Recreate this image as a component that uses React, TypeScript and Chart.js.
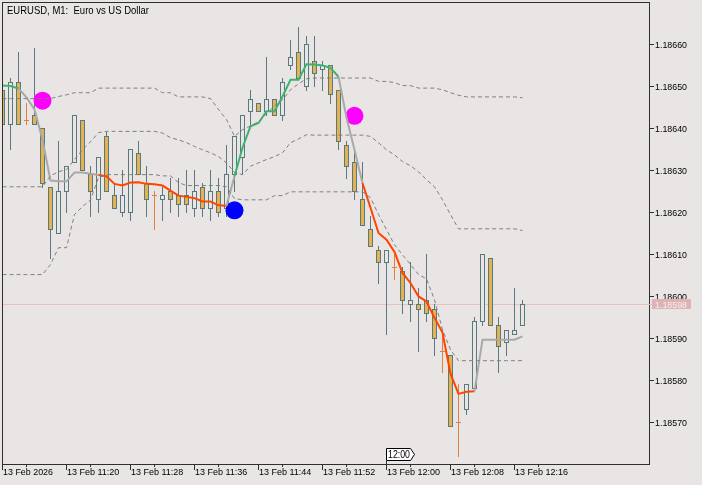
import React, { useEffect, useRef } from "react";
import { Chart, registerables } from "chart.js";

Chart.register(...registerables);

// ---------- text ----------
const chartTitle = "EURUSD, M1:  Euro vs US Dollar";
const timeTickBars = [0, 8, 16, 24, 32, 40, 48, 56, 64];
const timeTickLabels = [
  "13 Feb 2026", "13 Feb 11:20", "13 Feb 11:28", "13 Feb 11:36", "13 Feb 11:44",
  "13 Feb 11:52", "13 Feb 12:00", "13 Feb 12:08", "13 Feb 12:16",
];
const priceTicks = [1.1857, 1.1858, 1.1859, 1.186, 1.1861, 1.1862, 1.1863, 1.1864, 1.1865, 1.1866];
const bidPrice = 1.18598;
const timeMarkerBar = 48;
const timeMarkerLabel = "12:00";

// ---------- candles (bar 0 = 11:12, one bar per minute) ----------
const opens = [
  1.18649, 1.18641, 1.18651, 1.18642, 1.18643, 1.1864, 1.18626, 1.18615, 1.18625, 1.18632,
  1.18642, 1.18629, 1.18623, 1.18638, 1.18624, 1.1862, 1.1862, 1.18634, 1.18627, 1.18624,
  1.18623, 1.18625, 1.18624, 1.18624, 1.18621, 1.18626, 1.18621, 1.18625, 1.18621, 1.18629,
  1.18633, 1.18644, 1.18646, 1.18644, 1.18647, 1.18643, 1.18655, 1.18658, 1.1865, 1.18656,
  1.18654, 1.18655, 1.18649, 1.18636, 1.18632, 1.18623, 1.18616, 1.18611, 1.18608, 1.18607,
  1.18606, 1.18598, 1.18598, 1.18599, 1.18597, 1.18587, 1.18586, 1.1857, 1.18573, 1.18578,
  1.18594, 1.18609, 1.18593, 1.18589, 1.18591, 1.18593,
];
const highs = [
  1.18651, 1.18652, 1.18658, 1.18646, 1.18659, 1.1864, 1.18626, 1.18637, 1.18631, 1.18643,
  1.18642, 1.18631, 1.18633, 1.18639, 1.18627, 1.1863, 1.18635, 1.18637, 1.18631, 1.18625,
  1.18626, 1.18628, 1.18628, 1.1863, 1.1863, 1.18627, 1.1863, 1.18628, 1.18636, 1.18638,
  1.18643, 1.18649, 1.18646, 1.18657, 1.18647, 1.18652, 1.18661, 1.18664, 1.18662, 1.18662,
  1.18656, 1.18655, 1.18649, 1.18637, 1.18635, 1.18632, 1.18619, 1.18612, 1.18611, 1.1861,
  1.18607, 1.18608, 1.18602, 1.1861, 1.18598, 1.18592, 1.18586, 1.18579, 1.18579, 1.18595,
  1.1861, 1.18609, 1.18595, 1.18592, 1.18602, 1.18599,
];
const lows = [
  1.1864, 1.18635, 1.18641, 1.18641, 1.18641, 1.18626, 1.18609, 1.18615, 1.1862, 1.18632,
  1.1863, 1.18619, 1.1862, 1.18625, 1.18621, 1.18619, 1.18618, 1.18629, 1.18619, 1.18616,
  1.18618, 1.1862, 1.18619, 1.1862, 1.18619, 1.18619, 1.18618, 1.18619, 1.18619, 1.18625,
  1.18629, 1.18641, 1.18644, 1.18643, 1.18643, 1.18642, 1.18654, 1.18652, 1.18649, 1.1865,
  1.18649, 1.18646, 1.18635, 1.18628, 1.18623, 1.18617, 1.18612, 1.18603, 1.18591, 1.18604,
  1.18596, 1.18594, 1.18587, 1.18594, 1.18586, 1.18582, 1.18569, 1.18562, 1.18572, 1.18578,
  1.18593, 1.18593, 1.18582, 1.18586, 1.18591, 1.18593,
];
const closes = [
  1.18641, 1.18651, 1.18641, 1.18642, 1.18641, 1.18627, 1.18616, 1.18625, 1.18631, 1.18643,
  1.1863, 1.18625, 1.18633, 1.18625, 1.18621, 1.18624, 1.18635, 1.18629, 1.18623, 1.18624,
  1.18624, 1.18623, 1.18622, 1.18622, 1.18625, 1.18621, 1.18625, 1.1862, 1.18629, 1.18638,
  1.18643, 1.18647, 1.18644, 1.18647, 1.18643, 1.18651, 1.18657, 1.18652, 1.1866, 1.18653,
  1.18655, 1.18648, 1.18637, 1.18631, 1.18625, 1.18617, 1.18612, 1.18608, 1.18611, 1.18607,
  1.18599, 1.18599, 1.18597, 1.18596, 1.1859, 1.18587, 1.18569, 1.1857, 1.18579, 1.18594,
  1.1861, 1.18593, 1.18588, 1.18592, 1.18592, 1.18598,
];

// ---------- moving average + trend state (1 up, -1 down, 0 flat) ----------
const maValues = [
  1.186501, 1.1865, 1.186494, 1.186473, 1.186444, 1.186372, 1.186275, 1.186273, 1.186273, 1.186294,
  1.186294, 1.186291, 1.186288, 1.186285, 1.186267, 1.186263, 1.18627, 1.186271, 1.186267, 1.186266,
  1.186263, 1.186251, 1.186239, 1.186236, 1.186233, 1.186225, 1.186225, 1.186216, 1.186215, 1.186285,
  1.186353, 1.186404, 1.186412, 1.18644, 1.18644, 1.186475, 1.186515, 1.186515, 1.186552, 1.186551,
  1.186549, 1.186543, 1.186522, 1.186425, 1.186348, 1.186269, 1.18621, 1.18615, 1.186134, 1.186105,
  1.186055, 1.186031, 1.185999, 1.185987, 1.185948, 1.185913, 1.185815, 1.185767, 1.185772, 1.185773,
  1.185896, 1.185896, 1.185896, 1.185896, 1.185896, 1.185904,
];
const maTrend = [
  1, 1, 1, 0, 0, 0, 0, 0, 0, 0,
  0, 0, 0, -1, -1, -1, -1, -1, -1, -1,
  -1, -1, -1, -1, -1, -1, -1, -1, -1, 0,
  1, 1, 1, 1, 1, 1, 1, 1, 1, 1,
  1, 1, 1, 0, 0, 0, -1, -1, -1, -1,
  -1, -1, -1, -1, -1, -1, -1, -1, -1, -1,
  0, 0, 0, 0, 0, 0,
];

// ---------- bands ----------
const bandUpper = [
  1.18647, 1.18647, 1.18647, 1.18647, 1.18647, 1.18647, 1.18647, 1.186475, 1.186479, 1.186484,
  1.186484, 1.186484, 1.186495, 1.186495, 1.186495, 1.186495, 1.186495, 1.186495, 1.186495, 1.186495,
  1.186484, 1.186484, 1.186474, 1.186474, 1.186474, 1.186474, 1.18647, 1.186444, 1.18642, 1.18638,
  1.186396, 1.186405, 1.186415, 1.186434, 1.186453, 1.186467, 1.186491, 1.186505, 1.186517, 1.186519,
  1.186519, 1.186519, 1.186519, 1.186519, 1.186519, 1.186519, 1.186519, 1.186511, 1.186511, 1.186508,
  1.186501, 1.186501, 1.186495, 1.186495, 1.186495, 1.186491, 1.186484, 1.186478, 1.186474, 1.186474,
  1.186474, 1.186474, 1.186474, 1.186474, 1.186474, 1.186472,
];
const bandMiddle = [
  1.18626, 1.18626, 1.18626, 1.18626, 1.18626, 1.18626, 1.186286, 1.186296, 1.186301, 1.186325,
  1.186348, 1.186367, 1.186389, 1.186392, 1.186392, 1.186392, 1.186392, 1.186392, 1.186392, 1.186392,
  1.186388, 1.186377, 1.186372, 1.186365, 1.186356, 1.186348, 1.186341, 1.186332, 1.186317, 1.186294,
  1.186289, 1.186309, 1.186317, 1.186325, 1.186332, 1.186341, 1.186365, 1.186374, 1.186384, 1.186383,
  1.186383, 1.186383, 1.186383, 1.186383, 1.186383, 1.186383, 1.18638, 1.186365, 1.186348, 1.186336,
  1.18632, 1.18631, 1.186296, 1.186277, 1.18626, 1.186229, 1.186194, 1.18616, 1.18616, 1.18616,
  1.18616, 1.18616, 1.18616, 1.18616, 1.18616, 1.186156,
];
const bandLower = [
  1.186051, 1.186051, 1.186051, 1.186051, 1.186051, 1.186051, 1.186075, 1.186115, 1.186115, 1.186194,
  1.186213, 1.186229, 1.186282, 1.186289, 1.186289, 1.186289, 1.186289, 1.186289, 1.186289, 1.186289,
  1.186286, 1.186286, 1.18627, 1.186263, 1.186263, 1.186263, 1.186263, 1.186263, 1.18626, 1.186232,
  1.186229, 1.186229, 1.186229, 1.186229, 1.186239, 1.186239, 1.186248, 1.186248, 1.186248, 1.186248,
  1.186248, 1.186248, 1.186248, 1.186248, 1.186248, 1.186248, 1.186234, 1.186194, 1.186158, 1.186122,
  1.186098, 1.186075, 1.186051, 1.186041, 1.185991, 1.18592, 1.185872, 1.185846, 1.185846, 1.185846,
  1.185846, 1.185846, 1.185846, 1.185846, 1.185846, 1.185846,
];

// ---------- signal dots ----------
const signalBars = [5, 29, 44];
const signalPrices = [1.186465, 1.186204, 1.186429];
const signalColors = ["#ff00ff", "#0000ff", "#ff00ff"];

// ---------- style ----------
const BG = "#e9e5e4";
const FRAME = "#2f2f2f";
const CANDLE_LINE = "#587a7e";
const BEAR_FILL = "#e6b251";
const DOJI = "#e08040";
const MA_UP = "#3cb371";
const MA_DOWN = "#ff4500";
const MA_FLAT = "#a9a9a9";
const BAND = "#7f7f7f";
const BID_LINE = "#e6c0c0";
const BID_BOX = "#dfb3b3";
const FONT = "Liberation Sans, Arial, sans-serif";

const trendColor = (t: number) => (t > 0 ? MA_UP : t < 0 ? MA_DOWN : MA_FLAT);

const mtPlugin = {
  id: "mtChart",
  beforeDraw(chart: any) {
    const ctx = chart.ctx;
    ctx.save();
    ctx.fillStyle = BG;
    ctx.fillRect(0, 0, chart.width, chart.height);
    ctx.restore();
  },
  beforeDatasetsDraw(chart: any) {
    const ctx = chart.ctx;
    const xs = chart.scales.x;
    const ys = chart.scales.y;
    const a = chart.chartArea;
    ctx.save();
    ctx.beginPath();
    ctx.rect(a.left, a.top, a.right - a.left, a.bottom - a.top);
    ctx.clip();
    // bid line
    const by = Math.round(ys.getPixelForValue(bidPrice));
    ctx.fillStyle = BID_LINE;
    ctx.fillRect(a.left, by, a.right - a.left, 1);
    // candles
    for (let i = 0; i < opens.length; i++) {
      const cx = Math.floor(xs.getPixelForValue(i)); // pixel column
      const o = opens[i], c = closes[i], h = highs[i], l = lows[i];
      const yh = Math.round(ys.getPixelForValue(h));
      const yl = Math.round(ys.getPixelForValue(l));
      const yt = Math.round(ys.getPixelForValue(Math.max(o, c)));
      const yb = Math.round(ys.getPixelForValue(Math.min(o, c)));
      if (o === c) {
        ctx.fillStyle = DOJI;
        ctx.fillRect(cx, yh, 1, yl - yh + 1);
        ctx.fillRect(cx - 2, yt, 5, 1);
        continue;
      }
      ctx.fillStyle = CANDLE_LINE;
      ctx.fillRect(cx, yh, 1, yl - yh + 1);
      ctx.fillStyle = c < o ? BEAR_FILL : BG;
      ctx.fillRect(cx - 2, yt, 5, yb - yt + 1);
      ctx.strokeStyle = CANDLE_LINE;
      ctx.lineWidth = 1;
      ctx.strokeRect(cx - 1.5, yt + 0.5, 4, yb - yt);
    }
    ctx.restore();
  },
  afterDraw(chart: any) {
    const ctx = chart.ctx;
    const xs = chart.scales.x;
    const ys = chart.scales.y;
    const a = chart.chartArea;
    ctx.save();
    // frame
    ctx.strokeStyle = FRAME;
    ctx.lineWidth = 1;
    ctx.strokeRect(a.left + 0.5, a.top + 0.5, a.right - a.left, a.bottom - a.top);
    // title
    ctx.fillStyle = "#000";
    ctx.font = `11px ${FONT}`;
    ctx.textBaseline = "alphabetic";
    ctx.textAlign = "left";
    ctx.fillText(chartTitle, 7, 14, 142);
    // price axis
    ctx.font = `9px ${FONT}`;
    priceTicks.forEach((p) => {
      const y = Math.round(ys.getPixelForValue(p));
      ctx.fillStyle = FRAME;
      ctx.fillRect(a.right, y, 5, 1);
      ctx.fillStyle = "#000";
      ctx.fillText(p.toFixed(5), a.right + 6, y + 3.5, 32);
    });
    // bid label
    const by = Math.round(ys.getPixelForValue(bidPrice));
    ctx.fillStyle = BID_LINE;
    ctx.fillRect(a.right, by, 3, 1);
    ctx.fillStyle = BID_BOX;
    ctx.fillRect(a.right + 3, by - 5, 39, 10);
    ctx.fillStyle = "#f6eeee";
    ctx.fillText(bidPrice.toFixed(5), a.right + 6, by + 3.5, 32);
    // time axis
    timeTickBars.forEach((b, k) => {
      const x = Math.floor(xs.getPixelForValue(b));
      ctx.fillStyle = FRAME;
      ctx.fillRect(x, a.bottom, 1, 6);
      const mx = Math.floor(xs.getPixelForValue(b + 3));
      if (mx < a.right) ctx.fillRect(mx, a.bottom, 1, 3);
      ctx.fillStyle = "#000";
      ctx.fillText(timeTickLabels[k], x + 1, a.bottom + 11, k === 0 ? 50 : 54);
    });
    // time marker label
    const mx = Math.floor(xs.getPixelForValue(timeMarkerBar));
    ctx.beginPath();
    ctx.moveTo(mx + 0.5, 448.5);
    ctx.lineTo(mx + 24.5, 448.5);
    ctx.lineTo(mx + 28.5, 454.5);
    ctx.lineTo(mx + 24.5, 460.5);
    ctx.lineTo(mx + 0.5, 460.5);
    ctx.closePath();
    ctx.fillStyle = "#ffffff";
    ctx.fill();
    ctx.strokeStyle = "#000";
    ctx.stroke();
    ctx.fillStyle = FRAME;
    ctx.fillRect(mx, 461, 1, 3);
    ctx.fillStyle = "#000";
    ctx.font = `10px ${FONT}`;
    ctx.fillText(timeMarkerLabel, mx + 2, 458, 22);
    ctx.restore();
  },
};

export default function App() {
  const ref = useRef<HTMLCanvasElement | null>(null);
  useEffect(() => {
    document.body.style.margin = "0";
    document.body.style.background = BG;
    const canvas = ref.current;
    if (!canvas) return;
    const pts = (arr: number[]) => arr.map((v, i) => ({ x: i, y: v }));
    const bandDs = (label: string, arr: number[]) => ({
      label,
      data: pts(arr),
      borderColor: BAND,
      borderWidth: 1,
      borderDash: [4, 3],
      pointRadius: 0,
      fill: false,
      tension: 0,
    });
    const chart = new Chart(canvas, {
      type: "line",
      data: {
        datasets: [
          bandDs("upper", bandUpper),
          bandDs("middle", bandMiddle),
          bandDs("lower", bandLower),
          {
            label: "ma",
            data: pts(maValues),
            borderColor: MA_FLAT,
            borderWidth: 2,
            pointRadius: 0,
            fill: false,
            tension: 0,
            segment: {
              borderColor: (c: any) => trendColor(maTrend[c.p1DataIndex]),
            },
          } as any,
          {
            type: "scatter",
            label: "signals",
            data: signalBars.map((b, k) => ({ x: b, y: signalPrices[k] })),
            pointRadius: 9,
            pointBackgroundColor: signalColors,
            pointBorderWidth: 0,
            showLine: false,
          } as any,
        ],
      },
      options: {
        responsive: false,
        animation: false,
        devicePixelRatio: 1,
        events: [],
        layout: { autoPadding: false, padding: { left: 2, top: 2, right: 53, bottom: 21 } },
        scales: {
          x: { type: "linear", min: -0.0625, max: 80.8125, display: false },
          y: { type: "linear", min: 1.1856, max: 1.1867, display: false },
        },
        plugins: { legend: { display: false }, tooltip: { enabled: false } },
      },
      plugins: [mtPlugin],
    });
    return () => chart.destroy();
  }, []);
  return <canvas ref={ref} width={702} height={485} style={{ display: "block" }} />;
}
